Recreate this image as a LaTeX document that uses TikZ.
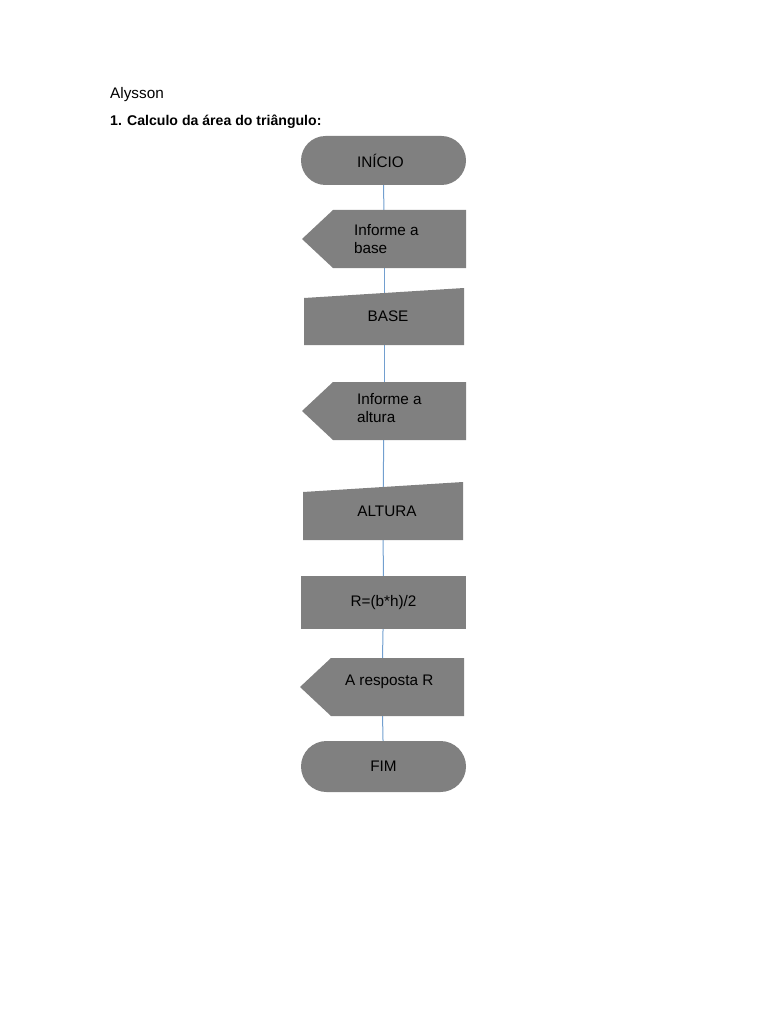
\documentclass[tikz,border=0pt]{standalone}
\usepackage{fontspec}
\setmainfont{Liberation Sans}
\usetikzlibrary{backgrounds}
\definecolor{shapegray}{RGB}{128,128,128}
\definecolor{connblue}{RGB}{114,159,207}
\newcommand{\lblfont}{\fontsize{15.3}{18}\selectfont}
\tikzset{
  box/.style={minimum width=165pt, minimum height=53pt, inner sep=0pt, font=\lblfont},
  term/.style={box, minimum height=49pt, fill=shapegray, rounded corners=24.5pt},
  proc/.style={box, fill=shapegray},
  disp/.style={box, minimum width=164pt, minimum height=58pt,
    path picture={\fill[shapegray] ([xshift=31pt]path picture bounding box.north west)
      -- (path picture bounding box.north east) -- (path picture bounding box.south east)
      -- ([xshift=31pt]path picture bounding box.south west)
      -- (path picture bounding box.west) -- cycle;}},
  manin/.style={box, minimum width=160pt, minimum height=57pt,
    path picture={\fill[shapegray] (path picture bounding box.south west)
      -- ([yshift=-10pt]path picture bounding box.north west)
      -- (path picture bounding box.north east)
      -- (path picture bounding box.south east) -- cycle;}},
  txt/.style={font=\lblfont, align=left, inner sep=0pt},
  conn/.style={draw=connblue, line width=1pt},
}
\begin{document}
\begin{tikzpicture}[x=1pt, y=-1pt]
  \useasboundingbox (0,0) rectangle (768,1024);
  % cabecalho
  \node[anchor=base west, inner sep=0pt, font=\lblfont] (nome) at (110,99) {Alysson};
  \node[anchor=base west, inner sep=0pt, font=\fontsize{14.1}{17}\selectfont\bfseries] (titulo) at (110,126) {1. Calculo da área do triângulo:};
  % fluxograma
  \node[term] (inicio) at (383.5,160.5) {INÍCIO\hspace*{6pt}};
  \node[disp] (pbase) at (384,239) {};
  \node[txt, anchor=west] (tpbase) at ([xshift=52pt]pbase.west) {Informe a\\base};
  \node[manin] (base) at (384,316.5) {\hspace*{8pt}BASE};
  \node[disp] (paltura) at (384,411) {};
  \node[txt, anchor=west] (tpaltura) at ([xshift=55pt,yshift=3pt]paltura.west) {Informe a\\altura};
  \node[manin, minimum height=58pt] (altura) at (383,511) {\hspace*{8pt}ALTURA};
  \node[proc] (calc) at (383.5,602.5) {R=(b*h)/2};
  \node[disp] (resp) at (382,687) {};
  \node[txt, anchor=west] (tresp) at ([xshift=45pt,yshift=5pt]resp.west) {A resposta R};
  \node[term, minimum height=51pt, rounded corners=25.5pt] (fim) at (383.5,766.5) {FIM};
  % ligacoes (atras das caixas)
  \begin{scope}[on background layer]
    \draw[conn] (inicio.center) -- (pbase.center);
    \draw[conn] (pbase.center) -- (base.center);
    \draw[conn] (base.center) -- (paltura.center);
    \draw[conn] (paltura.center) -- (altura.center);
    \draw[conn] (altura.center) -- (calc.center);
    \draw[conn] (calc.center) -- (resp.center);
    \draw[conn] (resp.center) -- (fim.center);
  \end{scope}
\end{tikzpicture}
\end{document}
